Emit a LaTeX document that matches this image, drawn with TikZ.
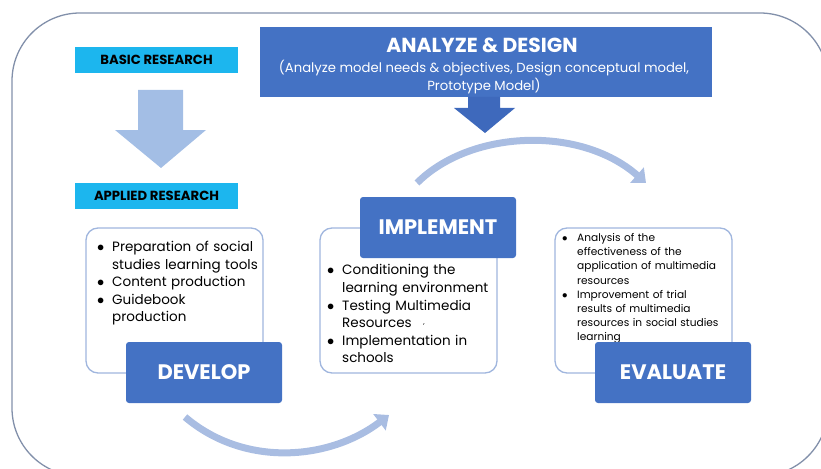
\documentclass[tikz,border=0pt]{standalone}
\usepackage{fontspec}
\setmainfont{Poppins}
\usetikzlibrary{shapes,arrows,arrows.meta}

\definecolor{stepblue}{HTML}{4472C4}
\definecolor{darkblue}{HTML}{3E69BC}
\definecolor{skycyan}{HTML}{1CB6EE}
\definecolor{paleblue}{HTML}{A9BDE2}
\definecolor{softblue}{HTML}{A3BEE5}
\definecolor{boxline}{HTML}{A0B6DE}
\definecolor{framegray}{HTML}{8290AA}

\hyphenpenalty=10000
\exhyphenpenalty=10000
\newcommand{\bl}{\par\hangindent=15pt\hangafter=1\noindent\makebox[15pt][l]{$\bullet$}}

\begin{document}
\begin{tikzpicture}[x=1pt, y=-1pt]
\tikzstyle{stepbox}=[rectangle, fill=stepblue, rounded corners=3pt, text=white, font=\bfseries\fontsize{21}{24}\selectfont, minimum width=156pt, minimum height=61pt]
\tikzstyle{researchbox}=[rectangle, fill=skycyan, font=\bfseries\fontsize{13.2}{15}\selectfont, minimum width=163pt, minimum height=26pt]
\tikzstyle{listbox}=[draw=boxline, fill=white, line width=1.3pt, rounded corners=12pt]
\tikzstyle{listtext}=[anchor=north west, inner sep=0pt, align=left, text width=200pt]
\tikzstyle{cycle}=[draw=paleblue, line width=7pt, -{Triangle[length=12pt, width=20pt]}]

\useasboundingbox (0,0) rectangle (821,468);

% outer frame
\draw[framegray, line width=1.3pt, rounded corners=68pt] (12,13) rectangle (828,476);

% research track
\node[researchbox] (basic) at (156.5,60) {BASIC RESEARCH};
\node[researchbox] (applied) at (156.5,196) {APPLIED RESEARCH};
\fill[softblue] (138,90) -- (183,90) -- (183,130) -- (206,130) -- (161,168) -- (115,130) -- (138,130) -- cycle;

% analyze and design
\node[rectangle, fill=stepblue, minimum width=452pt, minimum height=70pt, text=white] (analyze) at (486,62) {};
\node[text=white, font=\bfseries\fontsize{20.3}{23}\selectfont] (analyzet) at (482,45) {ANALYZE \& DESIGN};
\node[text=white, align=center, font=\fontsize{13.2}{18}\selectfont] (analyzes) at (484,77) {(Analyze model needs \& objectives, Design conceptual model,\\Prototype Model)};
\fill[darkblue] (468,97) -- (500,97) -- (500,108) -- (515,108) -- (485,133) -- (454,108) -- (468,108) -- cycle;

% list boxes
\draw[listbox] (86,228) rectangle (263,373);
\draw[listbox] (320,228) rectangle (497,373);
\draw[listbox] (555,228) rectangle (732,373);

\node[listtext, font=\fontsize{13.5}{17.5}\selectfont] (devlist) at (97,234) {%
\bl Preparation of social\newline studies learning tools
\bl Content production
\bl Guidebook\newline production\par};
\node[listtext, font=\fontsize{13.5}{17.6}\selectfont] (implist) at (327,257) {%
\bl Conditioning the\newline learning environment
\bl Testing Multimedia\newline Resources
\bl Implementation in\newline schools\par};
\node[font=\fontsize{7}{7}\selectfont] (mark) at (424,325) {,};
\node[listtext, font=\fontsize{10.6}{14.2}\selectfont] (evallist) at (562,227) {%
\bl Analysis of the\newline effectiveness of the\newline application of multimedia\newline resources
\bl Improvement of trial\newline results of multimedia\newline resources in social studies\newline learning\par};

% cycle steps
\node[stepbox] (develop) at (204,372.5) {DEVELOP};
\node[stepbox] (implement) at (438,227.5) {IMPLEMENT};
\node[stepbox] (evaluate) at (673,372.5) {EVALUATE};

\coordinate (c1s) at (185,417);
\coordinate (c1e) at (389,415);
\coordinate (c2s) at (417,183);
\coordinate (c2e) at (646,183);
\draw[cycle] (c1s) .. controls (245,468) and (330,460) .. (c1e);
\draw[cycle] (c2s) .. controls (470,130) and (580,125) .. (c2e);
\end{tikzpicture}
\end{document}
